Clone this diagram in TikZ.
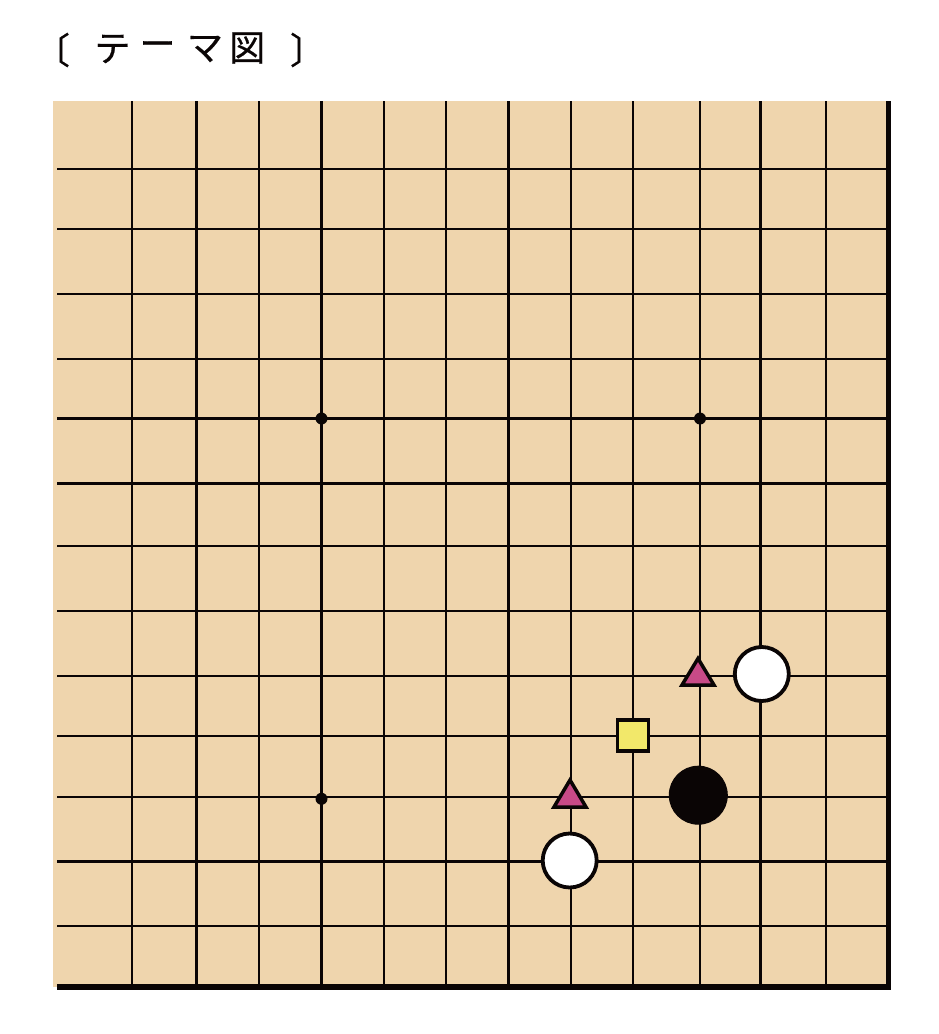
\documentclass[tikz,border=0pt]{standalone}
\usepackage{fontspec}
\newfontfamily\jpfont[FakeBold=0.6]{Noto Sans CJK JP}
\definecolor{board}{HTML}{EFD5AD}
\definecolor{tri}{HTML}{C84A87}
\definecolor{sq}{HTML}{F2E86A}
\definecolor{ink}{HTML}{0A0505}
\tikzset{
  gridline/.style={draw=ink, line width=2.3pt},
  edgeline/.style={draw=ink, line width=5.5pt},
  whitestone/.style={circle, draw=ink, fill=white, line width=3.8pt, minimum size=54pt, inner sep=0pt},
  blackstone/.style={circle, draw=ink, fill=ink, line width=1pt, minimum size=58pt, inner sep=0pt},
  hoshi/.style={circle, fill=ink, minimum size=12pt, inner sep=0pt},
  trimark/.style={draw=ink, fill=tri, line width=3.5pt, line join=miter},
  sqmark/.style={draw=ink, fill=sq, line width=3.5pt, minimum size=31pt, inner sep=0pt, rectangle},
  title/.style={font=\jpfont\fontsize{36}{40}\selectfont, inner sep=0pt, text=ink}
}
\begin{document}
\begin{tikzpicture}[x=1pt,y=-1pt]
\useasboundingbox (0,0) rectangle (938,1034);
% board
\fill[board] (53,101) rectangle (888,987);
% vertical lines
\foreach \x in {131.7,196.5,259,321.5,384,446,508.5,570.8,633.3,700,760.5,826}
  \draw[gridline] (\x,101) -- (\x,987);
% horizontal lines
\foreach \y in {169.2,229.3,294,358.8,418.5,483.5,546,610.8,675.8,736,796.8,861.6,925.8}
  \draw[gridline] (57,\y) -- (888,\y);
% edges
\draw[edgeline] (888.5,101) -- (888.5,989.7);
\draw[edgeline] (57,986.8) -- (891.2,986.8);
% star points
\node[hoshi] (h1) at (321.5,418.5) {};
\node[hoshi] (h2) at (700,418.5) {};
\node[hoshi] (h3) at (321.5,798.8) {};
% stones
\node[whitestone] (w1) at (761.8,674) {};
\node[whitestone] (w2) at (569.7,860.5) {};
\node[blackstone] (b1) at (698.3,795.2) {};
% marks
\draw[trimark] (698,658.5) -- (714,685) -- (682,685) -- cycle;
\draw[trimark] (570,780) -- (586,807) -- (554,807) -- cycle;
\node[sqmark] (s1) at (633.2,735.4) {};
% title
\node[title, anchor=center] (t0) at (52,50) {〔};
\node[title] (t1) at (112.5,49) {テ};
\node[title] (t2) at (157.5,49) {ー};
\node[title] (t3) at (205,49) {マ};
\node[title] (t4) at (247.2,48) {図};
\node[title] (t5) at (308,50) {〕};
\end{tikzpicture}
\end{document}
